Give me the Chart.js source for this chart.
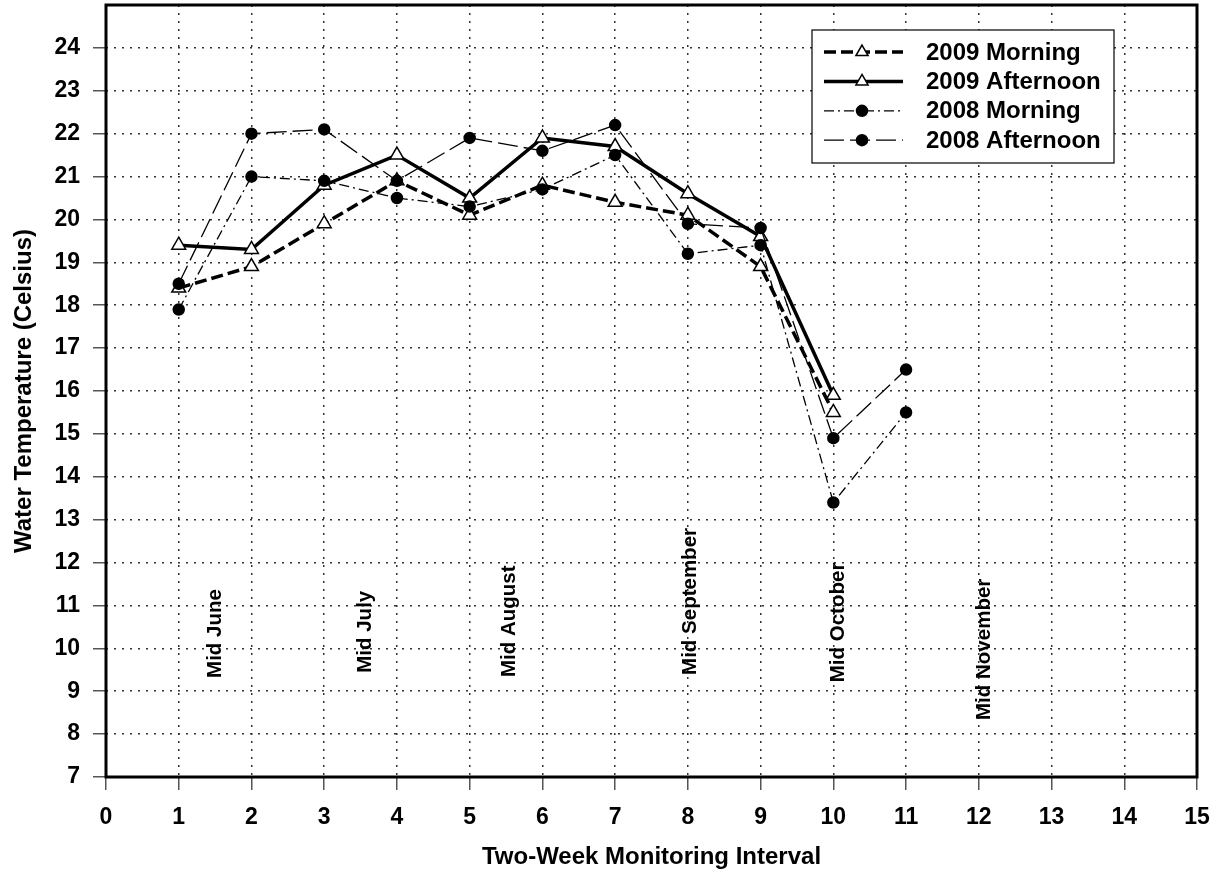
<!DOCTYPE html>
<html>
<head>
<meta charset="utf-8">
<script src="https://cdn.jsdelivr.net/npm/chart.js@4.4.1/dist/chart.umd.min.js"></script>
<style>
  html, body { margin: 0; padding: 0; background: #ffffff; }
  #wrap { width: 1227px; height: 873px; }
</style>
</head>
<body>
<div id="wrap"><canvas id="c" width="1227" height="873"></canvas></div>
<script>
// Two-week monitoring intervals
const intervals = [1, 2, 3, 4, 5, 6, 7, 8, 9, 10, 11];

// Water temperature (°C) per interval
const morning2009   = [18.4, 18.9, 19.9, 20.9, 20.1, 20.8, 20.4, 20.1, 18.9, 15.5];
const afternoon2009 = [19.4, 19.3, 20.8, 21.5, 20.5, 21.9, 21.7, 20.6, 19.6, 15.9];
const morning2008   = [17.9, 21.0, 20.9, 20.5, 20.3, 20.7, 21.5, 19.2, 19.4, 13.4, 15.5];
const afternoon2008 = [18.5, 22.0, 22.1, 20.9, 21.9, 21.6, 22.2, 19.9, 19.8, 14.9, 16.5];

const seriesNames = ['2009 Morning', '2009 Afternoon', '2008 Morning', '2008 Afternoon'];

// Month markers written vertically inside the plot (interval, temperature at text start)
const monthNames = ['Mid June', 'Mid July', 'Mid August', 'Mid September', 'Mid October', 'Mid November'];
const monthAt    = [1.5, 3.57, 5.54, 8.04, 10.07, 12.07];
const monthFrom  = [9.31, 9.43, 9.33, 9.38, 9.21, 8.33];

const FONT = "'Liberation Sans', Arial, Helvetica, sans-serif";

function pts(values) {
  return values.map((v, i) => ({ x: intervals[i], y: v }));
}

const styles = [
  { dash: [12, 5],       width: 3.5, point: 'triangle', radius: 8,   fill: '#ffffff', order: 2 },
  { dash: [],            width: 3.5, point: 'triangle', radius: 8,   fill: '#ffffff', order: 3 },
  { dash: [10, 4, 2, 4], width: 1.3, point: 'circle',   radius: 5.5, fill: '#000000', order: 0 },
  { dash: [20, 6],       width: 1.3, point: 'circle',   radius: 5.5, fill: '#000000', order: 1 }
];
const seriesData = [morning2009, afternoon2009, morning2008, afternoon2008];

const datasets = seriesData.map((vals, i) => ({
  label: seriesNames[i],
  data: pts(vals),
  borderColor: '#000000',
  borderWidth: styles[i].width,
  borderDash: styles[i].dash,
  tension: 0,
  fill: false,
  pointStyle: styles[i].point,
  pointRadius: styles[i].radius,
  pointBackgroundColor: styles[i].fill,
  pointBorderColor: '#000000',
  pointBorderWidth: 1.5,
  order: styles[i].order
}));

// Heavy frame around the plotting area
const framePlugin = {
  id: 'frame',
  beforeDatasetsDraw(chart) {
    const { ctx, chartArea: a } = chart;
    ctx.save();
    ctx.strokeStyle = '#000000';
    ctx.lineWidth = 3;
    ctx.setLineDash([]);
    ctx.strokeRect(a.left, a.top, a.right - a.left, a.bottom - a.top);
    ctx.restore();
  }
};

// Vertical month annotations
const monthPlugin = {
  id: 'months',
  afterDatasetsDraw(chart) {
    const { ctx, scales: { x, y } } = chart;
    ctx.save();
    ctx.fillStyle = '#000000';
    ctx.font = 'bold 20.5px ' + FONT;
    ctx.textAlign = 'left';
    ctx.textBaseline = 'middle';
    monthNames.forEach((name, i) => {
      ctx.save();
      ctx.translate(x.getPixelForValue(monthAt[i]), y.getPixelForValue(monthFrom[i]));
      ctx.rotate(-Math.PI / 2);
      ctx.fillText(name, 0, 0);
      ctx.restore();
    });
    ctx.restore();
  }
};

// Boxed legend with line samples and markers
const legendPlugin = {
  id: 'boxLegend',
  afterDraw(chart) {
    const { ctx, chartArea: a } = chart;
    const left = a.right - 385, top = a.top + 25, w = 302, h = 133;
    ctx.save();
    ctx.fillStyle = '#ffffff';
    ctx.fillRect(left, top, w, h);
    ctx.strokeStyle = '#000000';
    ctx.lineWidth = 1.2;
    ctx.setLineDash([]);
    ctx.strokeRect(left, top, w, h);
    seriesNames.forEach((name, i) => {
      const cy = top + 22 + i * 29.4;
      const s = styles[i];
      const x0 = left + 12, x1 = left + 91, mx = left + 50;
      ctx.strokeStyle = '#000000';
      ctx.lineWidth = s.width;
      ctx.setLineDash(s.dash);
      ctx.beginPath();
      ctx.moveTo(x0, cy);
      ctx.lineTo(x1, cy);
      ctx.stroke();
      ctx.setLineDash([]);
      ctx.lineWidth = 1.5;
      ctx.fillStyle = s.fill;
      ctx.beginPath();
      if (s.point === 'triangle') {
        const r = 7;
        for (let k = 0; k < 3; k++) {
          const ang = k * 2 * Math.PI / 3;
          const px = mx + Math.sin(ang) * r, py = cy - Math.cos(ang) * r;
          if (k === 0) ctx.moveTo(px, py); else ctx.lineTo(px, py);
        }
        ctx.closePath();
      } else {
        ctx.arc(mx, cy, 5.5, 0, Math.PI * 2);
      }
      ctx.fill();
      ctx.stroke();
      ctx.fillStyle = '#000000';
      ctx.font = 'bold 24px ' + FONT;
      ctx.textAlign = 'left';
      ctx.textBaseline = 'middle';
      ctx.fillText(name, left + 114, cy + 1);
    });
    ctx.restore();
  }
};

function noPad(s) {
  s.paddingTop = 0; s.paddingBottom = 0; s.paddingLeft = 0; s.paddingRight = 0;
}

const TICK_GREY = '#555555';

new Chart(document.getElementById('c'), {
  type: 'line',
  data: { datasets },
  options: {
    responsive: false,
    animation: false,
    devicePixelRatio: 1,
    layout: { autoPadding: false, padding: { top: 5, right: 30, left: 0, bottom: 0 } },
    plugins: { legend: { display: false }, tooltip: { enabled: false } },
    scales: {
      x: {
        type: 'linear',
        min: 0, max: 15,
        afterFit(s) { s.height = 96; noPad(s); },
        ticks: {
          stepSize: 1,
          color: '#000000',
          padding: 14,
          font: { family: FONT, size: 23, weight: 'bold', lineHeight: 1.2 }
        },
        grid: {
          color: '#333333',
          lineWidth: 1.5,
          tickLength: 13,
          tickColor: TICK_GREY,
          tickWidth: 1.5,
          tickBorderDash: []
        },
        border: { display: false, dash: [2, 6] },
        title: {
          display: true,
          text: 'Two-Week Monitoring Interval',
          color: '#000000',
          font: { family: FONT, size: 24, weight: 'bold', lineHeight: 1 },
          padding: { top: 0, bottom: 4 }
        }
      },
      y: {
        min: 7, max: 25,
        afterFit(s) { s.width = 106; noPad(s); },
        ticks: {
          stepSize: 1,
          color: '#000000',
          padding: 13,
          font: { family: FONT, size: 23, weight: 'bold' },
          callback: (v) => (v >= 25 ? '' : v)
        },
        grid: {
          color: '#333333',
          lineWidth: 1.5,
          tickLength: 13,
          tickColor: (c) => (c.tick && c.tick.value >= 25 ? 'rgba(0,0,0,0)' : TICK_GREY),
          tickWidth: 1.5,
          tickBorderDash: []
        },
        border: { display: false, dash: [2, 6] },
        title: {
          display: true,
          text: 'Water Temperature (Celsius)',
          color: '#000000',
          font: { family: FONT, size: 24, weight: 'bold', lineHeight: 1 },
          padding: { top: 12, bottom: 0 }
        }
      }
    }
  },
  plugins: [framePlugin, monthPlugin, legendPlugin]
});
</script>
</body>
</html>
